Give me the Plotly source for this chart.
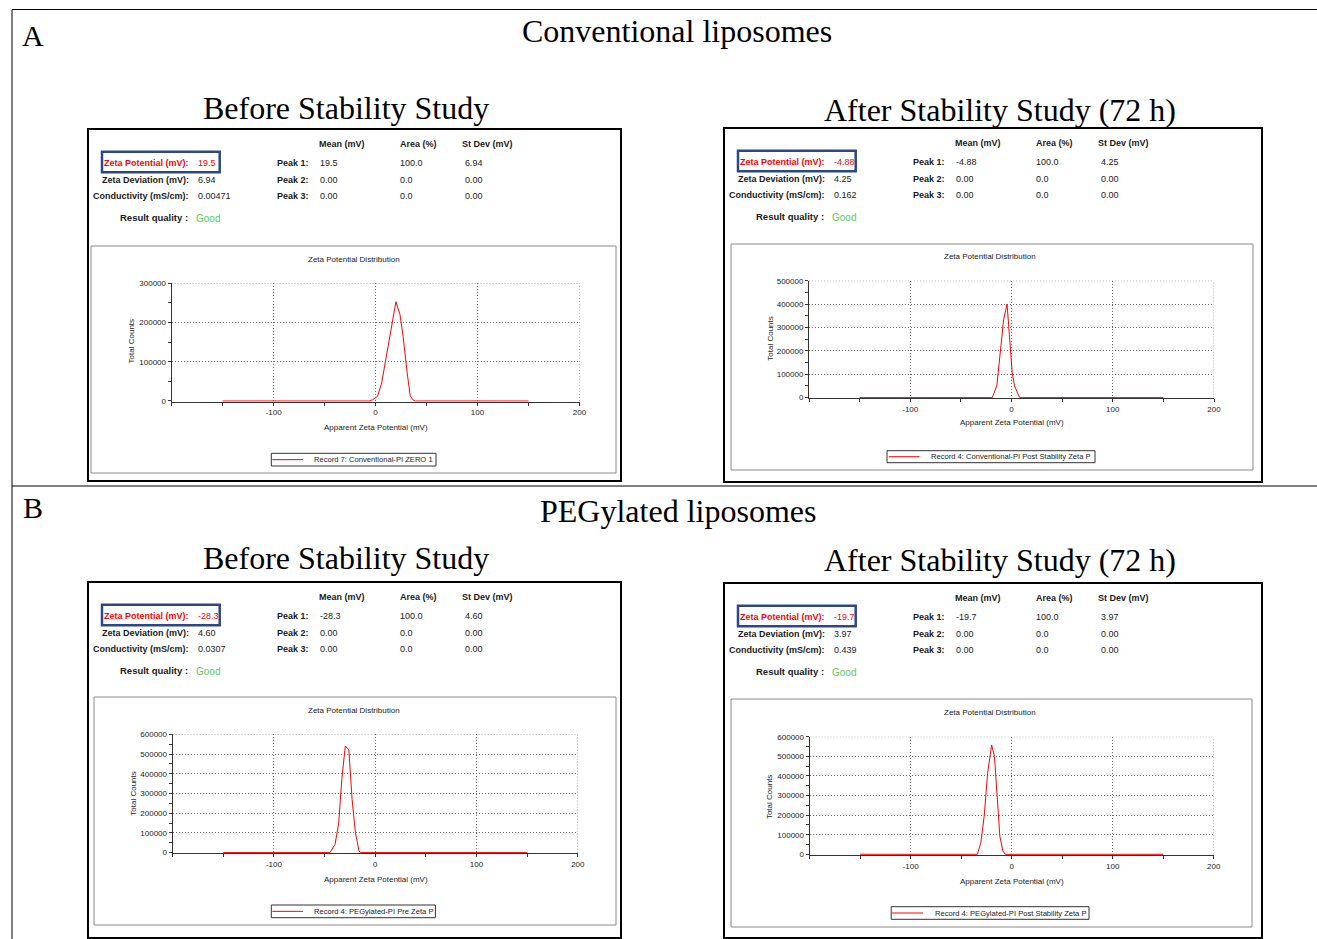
import plotly.graph_objects as go

W, H = 1317, 939

# ---------------- data ----------------
section_labels = ["A", "B"]
section_titles = ["Conventional liposomes", "PEGylated liposomes"]
panel_titles = ["Before Stability Study", "After Stability Study (72 h)"]

# Apparent zeta potential (mV) vs total counts
conv_before_mv = [-150, -6, -3, 2, 6, 9, 12, 16, 20, 24, 27, 31, 34, 37, 39, 150]
conv_before_counts = [0, 0, 3000, 12000, 46000, 89000, 131000, 198000, 253000, 220000, 165000, 72000, 13000, 2000, 0, 0]

conv_after_mv = [-150, -19, -14.5, -11, -7.8, -4.4, -1.7, 0.7, 3, 8, 150]
conv_after_counts = [0, 0, 50000, 205000, 333000, 400000, 248000, 106000, 50000, 0, 0]

peg_before_mv = [-150, -44.6, -39.6, -36, -33, -29.5, -26, -22.8, -19.5, -16, -14.4, 150]
peg_before_counts = [0, 0, 42000, 151000, 370000, 541000, 521000, 269000, 101000, 8000, 0, 0]

peg_after_mv = [-150, -33.9, -30.5, -27.2, -23.8, -19.8, -17, -14.4, -11.7, -8.7, -6.4, 150]
peg_after_counts = [0, 0, 59000, 194000, 414000, 558000, 499000, 279000, 93000, 17000, 0, 0]

y_max = [300000, 500000, 600000, 600000]
x_tick_vals = [-100, 0, 100, 200]

zeta_potential = ["19.5", "-4.88", "-28.3", "-19.7"]
zeta_deviation = ["6.94", "4.25", "4.60", "3.97"]
conductivity = ["0.00471", "0.162", "0.0307", "0.439"]
peak_area = ["100.0", "0.0", "0.0"]
empty_peak = "0.00"
result_quality = ["Good", "Good", "Good", "Good"]
legend_names = [
    "Record 7: Conventional-PI ZERO 1",
    "Record 4: Conventional-PI Post Stability Zeta P",
    "Record 4: PEGylated-PI Pre Zeta P",
    "Record 4: PEGylated-PI Post Stability Zeta P",
]
column_headers = ["Mean (mV)", "Area (%)", "St Dev (mV)"]
row_labels = ["Zeta Potential (mV):", "Zeta Deviation (mV):", "Conductivity (mS/cm):"]
peak_labels = ["Peak 1:", "Peak 2:", "Peak 3:"]

series_x = [conv_before_mv, conv_after_mv, peg_before_mv, peg_after_mv]
series_y = [conv_before_counts, conv_after_counts, peg_before_counts, peg_after_counts]

# ---------------- layout geometry (pixels) ----------------
box_origin = [(88, 129), (724, 128), (88, 582), (724, 583)]
box_end = [(621, 481), (1262, 482), (621, 938), (1262, 938)]
inner_box = [(91, 246, 616, 473), (731, 244, 1253, 470), (94, 697, 616, 925), (731, 699, 1252, 927)]
plot_area = [(171.6, 283.3, 579.5, 401.7), (809, 280.7, 1214, 398.3),
             (172.6, 734.3, 577.8, 853.3), (809.6, 736.7, 1213.7, 855)]
dist_title_pos = [(354, 259.3), (990, 256.7), (354, 710.7), (990, 712.7)]
x_title_pos = [(376, 427.3), (1011.7, 423), (376, 879.3), (1012, 881)]
y_title_pos = [(131.7, 341.7), (770.4, 338.3), (133.4, 793.3), (769.4, 796.7)]
legend_box = [(271.3, 453.3, 436, 466), (887, 450.7, 1095, 462.7),
              (271.3, 905, 435.4, 917.7), (891.2, 906.7, 1089, 919.3)]
legend_line = [(272.3, 303), (888.8, 919.5), (272.3, 303), (892, 923)]
legend_text_x = [313.3, 930, 313.3, 934]


def px(x):
    return x / W


def py(y):
    return 1 - y / H


SANS = "Liberation Sans, Arial, sans-serif"
SERIF = "Liberation Serif, Times New Roman, serif"
TXT = "#1a1a1a"
RED = "#ff0000"
GRID = "#6a6a6a"
GRID_DASH = "1px,2px"

fig = go.Figure()
annotations = []
shapes = []


def ann(x, y, text, size, color=TXT, xanchor="center", yanchor="middle", family=SANS, bold=False, angle=0):
    if bold:
        text = "<b>" + text + "</b>"
    annotations.append(dict(x=px(x), y=py(y), xref="paper", yref="paper", text=text, showarrow=False,
                            xanchor=xanchor, yanchor=yanchor, textangle=angle,
                            font=dict(family=family, size=size, color=color), borderpad=0))


def rect(x0, y0, x1, y1, color, width):
    shapes.append(dict(type="rect", xref="paper", yref="paper", x0=px(x0), x1=px(x1), y0=py(y0), y1=py(y1),
                       line=dict(color=color, width=width), fillcolor="rgba(0,0,0,0)", layer="above"))


def line(x0, y0, x1, y1, color, width):
    shapes.append(dict(type="line", xref="paper", yref="paper", x0=px(x0), x1=px(x1), y0=py(y0), y1=py(y1),
                       line=dict(color=color, width=width), layer="above"))


# outer frame lines
line(12, 9.5, 1317, 9.5, "black", 1)
line(12, 9.5, 12, 939, "black", 1)
line(12, 486, 1317, 486, "black", 1)

# section and panel titles
ann(33, 35, section_labels[0], 30, color="black", family=SERIF)
ann(676.5, 31, section_titles[0], 32, color="black", family=SERIF)
ann(345.5, 108, panel_titles[0], 32, color="black", family=SERIF)
ann(999.5, 110, panel_titles[1], 32, color="black", family=SERIF)
ann(33, 507, section_labels[1], 30, color="black", family=SERIF)
ann(677.5, 511, section_titles[1], 32, color="black", family=SERIF)
ann(345.5, 558, panel_titles[0], 32, color="black", family=SERIF)
ann(999.5, 560, panel_titles[1], 32, color="black", family=SERIF)

layout_axes = {}
for i in range(4):
    n = i + 1
    xs = "" if n == 1 else str(n)
    ox, oy = box_origin[i]
    ex, ey = box_end[i]
    rect(ox, oy, ex, ey, "black", 2)
    ib = inner_box[i]
    rect(ib[0], ib[1], ib[2], ib[3], "#8a8a8a", 1)

    # header "table"
    for j, h in enumerate(column_headers):
        ann(ox + [230, 310.5, 373][j], oy + 15, h, 9, xanchor="left", bold=True)
    row_y = [oy + 34, oy + 51, oy + 67.3]
    ann(ox + 102, row_y[0], row_labels[0], 9, color=RED, xanchor="right", bold=True)
    ann(ox + 109, row_y[0], zeta_potential[i], 9, color=RED, xanchor="left")
    ann(ox + 102, row_y[1], row_labels[1], 9, xanchor="right", bold=True)
    ann(ox + 109, row_y[1], zeta_deviation[i], 9, xanchor="left")
    ann(ox + 102, row_y[2], row_labels[2], 9, xanchor="right", bold=True)
    ann(ox + 109, row_y[2], conductivity[i], 9, xanchor="left")
    rect(ox + 14, oy + 22.7, ox + 131.7, oy + 43.3, "#2c4785", 2.5)
    peak_rows = [[zeta_potential[i], peak_area[0], zeta_deviation[i]],
                 [empty_peak, peak_area[1], empty_peak],
                 [empty_peak, peak_area[2], empty_peak]]
    for r in range(3):
        ann(ox + 221.5, row_y[r], peak_labels[r], 9, xanchor="right", bold=True)
        for c, cx in enumerate([230.5, 311, 376]):
            ann(ox + cx, row_y[r], peak_rows[r][c], 9, xanchor="left")
    ann(ox + 101, oy + 88.5, "Result quality :", 9.5, xanchor="right", bold=True)
    ann(ox + 107, oy + 89.5, result_quality[i], 10, color="#5cc85c", xanchor="left")

    # plot texts
    ann(dist_title_pos[i][0], dist_title_pos[i][1], "Zeta Potential Distribution", 8)
    ann(x_title_pos[i][0], x_title_pos[i][1], "Apparent Zeta Potential (mV)", 8)
    ann(y_title_pos[i][0], y_title_pos[i][1], "Total Counts", 8, angle=-90)

    # legend
    lb = legend_box[i]
    rect(lb[0], lb[1], lb[2], lb[3], "#333333", 1)
    ly = (lb[1] + lb[3]) / 2
    line(legend_line[i][0], ly, legend_line[i][1], ly, RED, 1)
    ann(legend_text_x[i], ly, legend_names[i], 7.6, xanchor="left")

    # trace
    fig.add_trace(go.Scatter(x=series_x[i], y=series_y[i], mode="lines", name=legend_names[i],
                             line=dict(color=RED, width=1), showlegend=False,
                             xaxis="x" + xs, yaxis="y" + xs))

    pa = plot_area[i]
    ymax = y_max[i]
    ytv = list(range(0, ymax + 1, 100000))
    tickfont = dict(family=SANS, size=8, color=TXT)

    # dotted grid lines at the top and right edges of the plot (plotly omits edge gridlines)
    shapes.append(dict(type="line", xref="x" + xs, yref="y" + xs, x0=-200, x1=200, y0=ymax, y1=ymax,
                       line=dict(color=GRID, width=1, dash=GRID_DASH), layer="below"))
    shapes.append(dict(type="line", xref="x" + xs, yref="y" + xs, x0=200, x1=200, y0=0, y1=ymax,
                       line=dict(color=GRID, width=1, dash=GRID_DASH), layer="below"))

    layout_axes["xaxis" + xs] = dict(
        domain=[px(pa[0]), px(pa[2])], range=[-200, 200], anchor="y" + xs,
        tickmode="array", tickvals=x_tick_vals, ticktext=[str(v) for v in x_tick_vals],
        ticks="outside", ticklen=3, tickwidth=1, tickcolor="#333333",
        showline=True, linecolor="#333333", linewidth=1,
        showgrid=True, gridcolor=GRID, griddash=GRID_DASH, gridwidth=1,
        zeroline=False, tickfont=tickfont, automargin=False, layer="below traces",
        minor=dict(tickmode="linear", tick0=-200, dtick=50, ticks="outside", ticklen=3,
                   tickcolor="#333333", showgrid=False),
    )
    layout_axes["yaxis" + xs] = dict(
        domain=[py(pa[3]), py(pa[1])], range=[-ymax * 0.006, ymax], anchor="x" + xs,
        tickmode="array", tickvals=ytv, ticktext=[str(v) for v in ytv],
        ticks="outside", ticklen=3, tickwidth=1, tickcolor="#333333",
        showline=True, linecolor="#333333", linewidth=1,
        showgrid=True, gridcolor=GRID, griddash=GRID_DASH, gridwidth=1,
        zeroline=False, tickfont=tickfont, automargin=False, layer="below traces",
        minor=dict(tickmode="linear", tick0=0, dtick=50000, ticks="outside", ticklen=3,
                   tickcolor="#333333", showgrid=False),
    )

fig.update_layout(
    width=W, height=H, margin=dict(l=0, r=0, t=0, b=0),
    paper_bgcolor="white", plot_bgcolor="white",
    showlegend=False, template="none",
    annotations=annotations, shapes=shapes,
    **layout_axes,
)

fig.write_html("out.html")
